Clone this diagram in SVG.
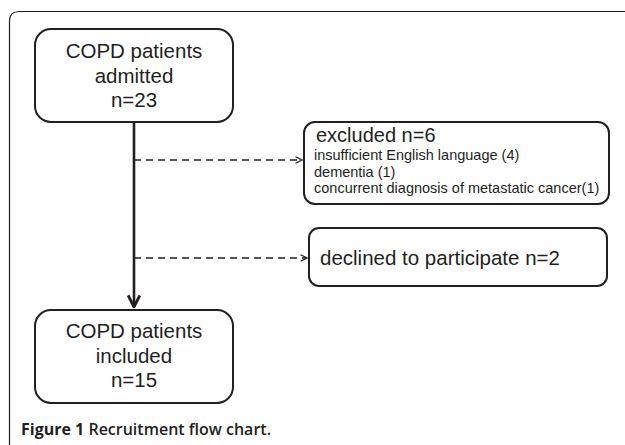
<svg xmlns="http://www.w3.org/2000/svg" width="625" height="445" viewBox="0 0 625 445">
<defs>
<style>
.box{fill:#fff;stroke:#231f20;stroke-width:2}
.t{font-family:"Liberation Sans",Arial,sans-serif;fill:#231f20}
.c{text-anchor:middle;font-size:20.5px}
.s{font-size:14.5px}
.dash{stroke:#231f20;stroke-width:1.6;stroke-dasharray:7,5;fill:none}
.solid{stroke:#231f20;stroke-width:2.6;fill:none}
.cap{font-family:"Open Sans","Liberation Sans",sans-serif;fill:#231f20;font-size:16px}
</style>
<marker id="ah" viewBox="0 0 10 10" refX="9" refY="5" markerWidth="8" markerHeight="8" markerUnits="userSpaceOnUse" orient="auto">
<path d="M1,1 L9,5 L1,9" fill="none" stroke="#231f20" stroke-width="1.6"/>
</marker>
<marker id="ahb" viewBox="0 0 12 12" refX="11" refY="6" markerWidth="14" markerHeight="14" markerUnits="userSpaceOnUse" orient="auto">
<path d="M1,1 L11,6 L1,11" fill="none" stroke="#231f20" stroke-width="2.4"/>
</marker>
</defs>
<rect width="625" height="445" fill="#fff"/>
<path d="M9.5,460 V21 Q9.5,11.5 19,11.5 H640" fill="none" stroke="#231f20" stroke-width="1.2"/>
<g id="connectors">
<line class="solid" x1="134" y1="122" x2="134" y2="307" marker-end="url(#ahb)"/>
<line class="dash" x1="134" y1="160" x2="302" y2="160" marker-end="url(#ah)"/>
<line class="dash" x1="134" y1="258" x2="307" y2="258" marker-end="url(#ah)"/>
</g>
<g id="admitted">
<rect class="box" x="35" y="29" width="198" height="93" rx="16"/>
<text class="t c" x="134" y="58">COPD patients</text>
<text class="t c" x="134" y="83">admitted</text>
<text class="t c" x="134" y="107">n=23</text>
</g>
<g id="excluded">
<rect class="box" x="304" y="122" width="305" height="82" rx="11"/>
<text class="t" x="316" y="142" font-size="20">excluded n=6</text>
<text class="t s" x="314" y="160">insufficient English language (4)</text>
<text class="t s" x="314" y="177">dementia (1)</text>
<text class="t s" x="314" y="193">concurrent diagnosis of metastatic cancer(1)</text>
</g>
<g id="declined">
<rect class="box" x="309" y="228" width="298" height="58" rx="10"/>
<text class="t" x="320" y="265" font-size="20.5">declined to participate n=2</text>
</g>
<g id="included">
<rect class="box" x="35" y="310" width="198" height="93" rx="16"/>
<text class="t c" x="134" y="338">COPD patients</text>
<text class="t c" x="134" y="363">included</text>
<text class="t c" x="134" y="387">n=15</text>
</g>
<text class="cap" x="21" y="435"><tspan font-weight="700">Figure 1</tspan><tspan font-weight="600"> Recruitment flow chart.</tspan></text>
</svg>
